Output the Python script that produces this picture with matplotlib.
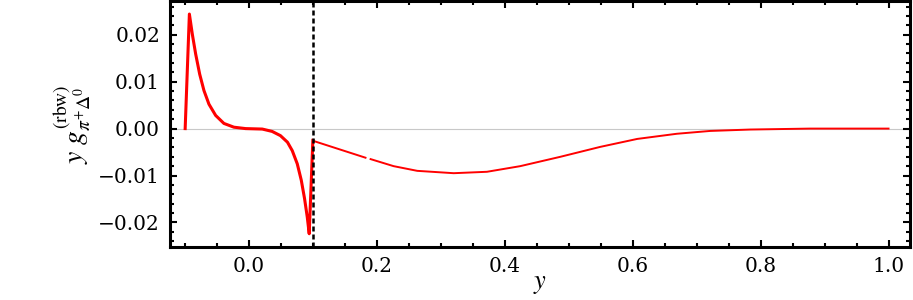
import numpy as np
import matplotlib
matplotlib.use("Agg")
import matplotlib.pyplot as plt
from matplotlib.ticker import MultipleLocator, FuncFormatter

# Branch below threshold (x < 0.1)
x_low = [-0.1, -0.0934, -0.0888, -0.0836, -0.0773, -0.0706, -0.0628, -0.0523,
         -0.0394, -0.0238, -0.0055, 0.0206, 0.036, 0.049, 0.060, 0.0675,
         0.0753, 0.0816, 0.0867, 0.0909, 0.094, 0.0997]
y_low = [0.0, 0.0244, 0.0201, 0.0159, 0.0116, 0.0081, 0.0052, 0.0028,
         0.0011, 0.0003, 0.0, -0.0001, -0.0006, -0.0015, -0.0029, -0.0047,
         -0.0075, -0.0110, -0.0149, -0.0188, -0.0224, -0.0025]

# Branch above threshold (x > 0.1); NaN marks the small gap in the curve
x_high = [0.1, 0.182, np.nan, 0.190, 0.226, 0.263, 0.320, 0.372, 0.424,
          0.487, 0.549, 0.607, 0.669, 0.721, 0.784, 0.877, 1.0]
y_high = [-0.0026, -0.0062, np.nan, -0.0065, -0.0080, -0.0090, -0.0095, -0.0092, -0.0080,
          -0.0060, -0.0039, -0.0022, -0.0011, -0.0005, -0.0002, 0.0, 0.0]

threshold = 0.1
x_ticks = [0.0, 0.2, 0.4, 0.6, 0.8, 1.0]
y_ticks = [-0.02, -0.01, 0.0, 0.01, 0.02]

plt.rcParams['mathtext.fontset'] = 'stix'
plt.rcParams['font.family'] = 'DejaVu Serif'

fig = plt.figure(figsize=(9.13, 3.0), dpi=100)
ax = fig.add_axes([0.186, 0.177, 0.811, 0.82])

ax.axhline(0, color='#c8c8c8', lw=0.8, zorder=1)
ax.plot(x_low, y_low, color='red', lw=2.2, zorder=3, solid_joinstyle='round')
ax.plot(x_high, y_high, color='red', lw=1.4, zorder=3, solid_joinstyle='round')
ax.axvline(threshold, color='black', lw=1.8, ls=(0, (2, 1.2)), zorder=4)

ax.set_xlim(-0.124, 1.034)
ax.set_ylim(-0.0252, 0.0272)

ax.set_xticks(x_ticks)
ax.set_yticks(y_ticks)
ax.xaxis.set_minor_locator(MultipleLocator(0.05))
ax.yaxis.set_minor_locator(MultipleLocator(0.002))
ax.xaxis.set_major_formatter(FuncFormatter(lambda v, p: f'{v:.1f}'.replace('-', '\u2212')))
ax.yaxis.set_major_formatter(FuncFormatter(
    lambda v, p: ('0.00' if abs(v) < 1e-9 else f'{v:.2f}'.replace('-', '\u2212'))))

ax.tick_params(which='both', direction='in', top=True, right=True, width=1.5,
               labelsize=14.5, pad=7)
ax.tick_params(which='major', length=5)
ax.tick_params(which='minor', length=3)
for s in ax.spines.values():
    s.set_linewidth(2.2)

ax.set_xlabel(r'$y$', fontsize=19, labelpad=-3)
ax.set_ylabel(r'$y\ g^{(\mathrm{rbw})}_{\pi^{+}\Delta^{0}}$', fontsize=20, labelpad=4)

fig.savefig('out.png', dpi=100)
